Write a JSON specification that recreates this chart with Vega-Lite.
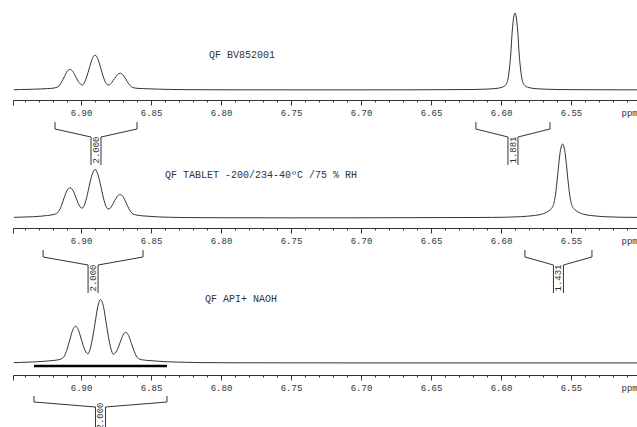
{
  "$schema": "https://vega.github.io/schema/vega-lite/v6.json",
  "background": "white",
  "padding": {"left": 11, "top": 0, "right": 0, "bottom": 0},
  "bounds": "flush",
  "spacing": 20,
  "config": {"view": {"stroke": null}, "axis": {"labelOverlap": false, "labelFlush": false, "labelBound": false}},
  "resolve": {"scale": {"x": "independent", "y": "independent"}},
  "datasets": {
    "s1": [
      {"ppm": 6.948, "i": 0.3}, {"ppm": 6.944, "i": 0.4}, {"ppm": 6.934, "i": 0.8}, {"ppm": 6.928, "i": 1.1}, {"ppm": 6.924, "i": 1.4},
      {"ppm": 6.92, "i": 1.8}, {"ppm": 6.918, "i": 2.4}, {"ppm": 6.916, "i": 3.7}, {"ppm": 6.914, "i": 7.6}, {"ppm": 6.912, "i": 13.1},
      {"ppm": 6.91, "i": 18.4}, {"ppm": 6.908, "i": 20.6}, {"ppm": 6.906, "i": 18.8}, {"ppm": 6.904, "i": 13.8}, {"ppm": 6.902, "i": 8.7},
      {"ppm": 6.9, "i": 5.5}, {"ppm": 6.899, "i": 5.1}, {"ppm": 6.898, "i": 6.5}, {"ppm": 6.896, "i": 12.9}, {"ppm": 6.894, "i": 22.2},
      {"ppm": 6.892, "i": 31.2}, {"ppm": 6.89, "i": 34.9}, {"ppm": 6.888, "i": 31.2}, {"ppm": 6.886, "i": 22.2}, {"ppm": 6.884, "i": 12.8},
      {"ppm": 6.882, "i": 6.3}, {"ppm": 6.881, "i": 4.9}, {"ppm": 6.88, "i": 5.1}, {"ppm": 6.878, "i": 7.6}, {"ppm": 6.876, "i": 11.5},
      {"ppm": 6.874, "i": 15.4}, {"ppm": 6.872, "i": 16.8}, {"ppm": 6.87, "i": 15.0}, {"ppm": 6.868, "i": 10.8}, {"ppm": 6.866, "i": 6.3},
      {"ppm": 6.864, "i": 3.2}, {"ppm": 6.862, "i": 2.1}, {"ppm": 6.86, "i": 1.7}, {"ppm": 6.856, "i": 1.4}, {"ppm": 6.85, "i": 1.1},
      {"ppm": 6.844, "i": 0.8}, {"ppm": 6.836, "i": 0.55}, {"ppm": 6.825, "i": 0.35}, {"ppm": 6.8, "i": 0.2}, {"ppm": 6.75, "i": 0.15},
      {"ppm": 6.7, "i": 0.15}, {"ppm": 6.66, "i": 0.2}, {"ppm": 6.64, "i": 0.35}, {"ppm": 6.62, "i": 0.5}, {"ppm": 6.61, "i": 0.9},
      {"ppm": 6.605, "i": 1.3}, {"ppm": 6.602, "i": 1.8}, {"ppm": 6.6, "i": 2.4}, {"ppm": 6.598, "i": 3.5}, {"ppm": 6.597, "i": 4.5},
      {"ppm": 6.596, "i": 6.5}, {"ppm": 6.595, "i": 11}, {"ppm": 6.594, "i": 21}, {"ppm": 6.593, "i": 36}, {"ppm": 6.592, "i": 58},
      {"ppm": 6.591, "i": 72}, {"ppm": 6.59, "i": 77}, {"ppm": 6.589, "i": 72}, {"ppm": 6.588, "i": 58}, {"ppm": 6.587, "i": 36},
      {"ppm": 6.586, "i": 21}, {"ppm": 6.585, "i": 11}, {"ppm": 6.584, "i": 6.5}, {"ppm": 6.583, "i": 4.5}, {"ppm": 6.582, "i": 3.5},
      {"ppm": 6.58, "i": 2.4}, {"ppm": 6.578, "i": 1.8}, {"ppm": 6.575, "i": 1.3}, {"ppm": 6.57, "i": 0.9}, {"ppm": 6.56, "i": 0.5},
      {"ppm": 6.545, "i": 0.3}, {"ppm": 6.52, "i": 0.2}, {"ppm": 6.502, "i": 0.15}
    ],
    "s2": [
      {"ppm": 6.948, "i": 0.7}, {"ppm": 6.944, "i": 0.8}, {"ppm": 6.934, "i": 1.3}, {"ppm": 6.928, "i": 1.9}, {"ppm": 6.924, "i": 2.5},
      {"ppm": 6.92, "i": 3.4}, {"ppm": 6.918, "i": 4.2}, {"ppm": 6.916, "i": 6.6}, {"ppm": 6.914, "i": 12.4}, {"ppm": 6.912, "i": 20.5},
      {"ppm": 6.91, "i": 27.5}, {"ppm": 6.908, "i": 30.2}, {"ppm": 6.906, "i": 28.1}, {"ppm": 6.904, "i": 21.8}, {"ppm": 6.902, "i": 14.6},
      {"ppm": 6.9, "i": 10.2}, {"ppm": 6.899, "i": 9.9}, {"ppm": 6.898, "i": 11.7}, {"ppm": 6.896, "i": 20.3}, {"ppm": 6.894, "i": 32.9},
      {"ppm": 6.892, "i": 43.8}, {"ppm": 6.89, "i": 48.5}, {"ppm": 6.888, "i": 43.7}, {"ppm": 6.886, "i": 32.7}, {"ppm": 6.884, "i": 20.0},
      {"ppm": 6.882, "i": 11.2}, {"ppm": 6.881, "i": 9.2}, {"ppm": 6.88, "i": 9.1}, {"ppm": 6.878, "i": 12.1}, {"ppm": 6.876, "i": 17.3},
      {"ppm": 6.874, "i": 21.9}, {"ppm": 6.872, "i": 23.5}, {"ppm": 6.87, "i": 21.3}, {"ppm": 6.868, "i": 15.9}, {"ppm": 6.866, "i": 9.8},
      {"ppm": 6.864, "i": 5.4}, {"ppm": 6.862, "i": 3.6}, {"ppm": 6.86, "i": 2.9}, {"ppm": 6.856, "i": 2.15}, {"ppm": 6.85, "i": 1.55},
      {"ppm": 6.844, "i": 1.05}, {"ppm": 6.836, "i": 0.7}, {"ppm": 6.825, "i": 0.45}, {"ppm": 6.8, "i": 0.25}, {"ppm": 6.75, "i": 0.15},
      {"ppm": 6.7, "i": 0.2}, {"ppm": 6.65, "i": 0.4}, {"ppm": 6.62, "i": 0.5}, {"ppm": 6.606, "i": 0.6}, {"ppm": 6.596, "i": 0.8},
      {"ppm": 6.586, "i": 1.3}, {"ppm": 6.581, "i": 1.8}, {"ppm": 6.576, "i": 2.5}, {"ppm": 6.571, "i": 3.8}, {"ppm": 6.568, "i": 5.3},
      {"ppm": 6.566, "i": 7}, {"ppm": 6.564, "i": 9.5}, {"ppm": 6.563, "i": 11.5}, {"ppm": 6.562, "i": 16}, {"ppm": 6.561, "i": 24},
      {"ppm": 6.56, "i": 36}, {"ppm": 6.559, "i": 50}, {"ppm": 6.558, "i": 63}, {"ppm": 6.557, "i": 71}, {"ppm": 6.556, "i": 74},
      {"ppm": 6.555, "i": 71}, {"ppm": 6.554, "i": 63}, {"ppm": 6.553, "i": 50}, {"ppm": 6.552, "i": 36}, {"ppm": 6.551, "i": 24},
      {"ppm": 6.55, "i": 16}, {"ppm": 6.549, "i": 11.5}, {"ppm": 6.548, "i": 9.5}, {"ppm": 6.546, "i": 7}, {"ppm": 6.544, "i": 5.3},
      {"ppm": 6.541, "i": 3.8}, {"ppm": 6.536, "i": 2.5}, {"ppm": 6.531, "i": 1.8}, {"ppm": 6.526, "i": 1.3}, {"ppm": 6.516, "i": 0.8},
      {"ppm": 6.502, "i": 0.6}
    ],
    "s3": [
      {"ppm": 6.948, "i": 0.4}, {"ppm": 6.944, "i": 0.55}, {"ppm": 6.934, "i": 1.05}, {"ppm": 6.926, "i": 1.75}, {"ppm": 6.92, "i": 2.5},
      {"ppm": 6.916, "i": 3.3}, {"ppm": 6.914, "i": 4.2}, {"ppm": 6.912, "i": 6.6}, {"ppm": 6.91, "i": 13.6}, {"ppm": 6.908, "i": 23.3},
      {"ppm": 6.906, "i": 32.7}, {"ppm": 6.904, "i": 36.7}, {"ppm": 6.902, "i": 33.4}, {"ppm": 6.9, "i": 24.6}, {"ppm": 6.898, "i": 15.6},
      {"ppm": 6.896, "i": 10.0}, {"ppm": 6.895, "i": 9.2}, {"ppm": 6.894, "i": 11.7}, {"ppm": 6.892, "i": 23.2}, {"ppm": 6.89, "i": 39.8},
      {"ppm": 6.888, "i": 56.5}, {"ppm": 6.886, "i": 63.5}, {"ppm": 6.884, "i": 56.5}, {"ppm": 6.882, "i": 39.7}, {"ppm": 6.88, "i": 23.0},
      {"ppm": 6.878, "i": 11.4}, {"ppm": 6.877, "i": 8.8}, {"ppm": 6.876, "i": 9.3}, {"ppm": 6.874, "i": 13.6}, {"ppm": 6.872, "i": 20.9},
      {"ppm": 6.87, "i": 28.0}, {"ppm": 6.868, "i": 30.8}, {"ppm": 6.866, "i": 27.4}, {"ppm": 6.864, "i": 19.6}, {"ppm": 6.862, "i": 11.6},
      {"ppm": 6.86, "i": 5.8}, {"ppm": 6.858, "i": 3.8}, {"ppm": 6.856, "i": 3.15}, {"ppm": 6.852, "i": 2.5}, {"ppm": 6.846, "i": 1.9},
      {"ppm": 6.84, "i": 1.3}, {"ppm": 6.83, "i": 0.85}, {"ppm": 6.815, "i": 0.4}, {"ppm": 6.79, "i": 0.2}, {"ppm": 6.7, "i": 0.1},
      {"ppm": 6.6, "i": 0.1}, {"ppm": 6.502, "i": 0.1}
    ],
    "i1": [{"start": 6.9186, "end": 6.86, "value": 2.0}, {"start": 6.6179, "end": 6.565, "value": 1.881}],
    "i2": [{"start": 6.9271, "end": 6.8557, "value": 2.0}, {"start": 6.5829, "end": 6.535, "value": 1.431}],
    "i3": [{"start": 6.9336, "end": 6.8386, "value": 2.0}]
  },
  "vconcat": [
    {
      "width": 626, "height": 100,
      "resolve": {"axis": {"x": "independent", "y": "independent"}},
      "layer": [
        {
          "data": {"name": "s1"},
          "mark": {"type": "line", "color": "#333", "strokeWidth": 1, "interpolate": "monotone"},
          "encoding": {
            "x": {"field": "ppm", "type": "quantitative", "scale": {"domain": [6.5014, 6.9486], "reverse": true, "nice": false, "zero": false},
              "axis": {"values": [6.51, 6.52, 6.53, 6.54, 6.55, 6.56, 6.57, 6.58, 6.59, 6.6, 6.61, 6.62, 6.63, 6.64, 6.65, 6.66, 6.67, 6.68, 6.69, 6.7, 6.71, 6.72, 6.73, 6.74, 6.75, 6.76, 6.77, 6.78, 6.79, 6.8, 6.81, 6.82, 6.83, 6.84, 6.85, 6.86, 6.87, 6.88, 6.89, 6.9, 6.91, 6.92, 6.93, 6.94, 6.9485],
                "labelExpr": "abs(datum.value * 20 - round(datum.value * 20)) < 0.001 ? format(datum.value, '.2f') : ''",
                "tickSize": {"condition": {"test": "abs(datum.value * 20 - round(datum.value * 20)) < 0.001 || datum.value > 6.948", "value": 5}, "value": 2},
                "tickColor": "#333", "domainColor": "#333", "grid": false, "labelFont": "Liberation Mono", "labelFontSize": 9, "labelColor": "#333",
                "labelPadding": 3, "labelOverlap": false, "labelFlush": false, "title": "ppm", "titleFont": "Liberation Mono", "titleFontSize": 9,
                "titleFontWeight": "normal", "titleColor": "#333", "titleAlign": "left", "titleBaseline": "top", "titleAnchor": "end", "titleX": 608, "titleY": 8}},
            "y": {"field": "i", "type": "quantitative", "scale": {"domain": [-10, 90], "nice": false, "zero": false}, "axis": null}
          }
        },
        {
          "data": {"name": "i1"},
          "transform": [{"calculate": "(datum.start + datum.end) / 2", "as": "mid"}],
          "layer": [
            {"mark": {"type": "rule", "color": "#333"}, "encoding": {"x": {"field": "start", "type": "quantitative", "scale": {"domain": [6.5014, 6.9486], "reverse": true, "nice": false, "zero": false}, "axis": null}, "y": {"datum": -32, "type": "quantitative", "scale": {"domain": [-10, 90], "nice": false, "zero": false}, "axis": null}, "y2": {"datum": -39}}},
            {"mark": {"type": "rule", "color": "#333"}, "encoding": {"x": {"field": "end", "type": "quantitative", "scale": {"domain": [6.5014, 6.9486], "reverse": true, "nice": false, "zero": false}, "axis": null}, "y": {"datum": -32, "type": "quantitative", "scale": {"domain": [-10, 90], "nice": false, "zero": false}, "axis": null}, "y2": {"datum": -39}}},
            {"mark": {"type": "rule", "color": "#333", "x2Offset": -5}, "encoding": {"x": {"field": "start", "type": "quantitative", "scale": {"domain": [6.5014, 6.9486], "reverse": true, "nice": false, "zero": false}, "axis": null}, "x2": {"field": "mid"}, "y": {"datum": -39, "type": "quantitative", "scale": {"domain": [-10, 90], "nice": false, "zero": false}, "axis": null}, "y2": {"datum": -47}}},
            {"mark": {"type": "rule", "color": "#333", "x2Offset": 5}, "encoding": {"x": {"field": "end", "type": "quantitative", "scale": {"domain": [6.5014, 6.9486], "reverse": true, "nice": false, "zero": false}, "axis": null}, "x2": {"field": "mid"}, "y": {"datum": -39, "type": "quantitative", "scale": {"domain": [-10, 90], "nice": false, "zero": false}, "axis": null}, "y2": {"datum": -47}}},
            {"mark": {"type": "rule", "color": "#333", "xOffset": -5}, "encoding": {"x": {"field": "mid", "type": "quantitative", "scale": {"domain": [6.5014, 6.9486], "reverse": true, "nice": false, "zero": false}, "axis": null}, "y": {"datum": -47, "type": "quantitative", "scale": {"domain": [-10, 90], "nice": false, "zero": false}, "axis": null}, "y2": {"datum": -75}}},
            {"mark": {"type": "rule", "color": "#333", "xOffset": 5}, "encoding": {"x": {"field": "mid", "type": "quantitative", "scale": {"domain": [6.5014, 6.9486], "reverse": true, "nice": false, "zero": false}, "axis": null}, "y": {"datum": -47, "type": "quantitative", "scale": {"domain": [-10, 90], "nice": false, "zero": false}, "axis": null}, "y2": {"datum": -75}}},
            {"mark": {"type": "text", "angle": 270, "font": "Liberation Mono", "fontSize": 9, "color": "#333", "align": "center", "baseline": "middle"}, "encoding": {"x": {"field": "mid", "type": "quantitative", "scale": {"domain": [6.5014, 6.9486], "reverse": true, "nice": false, "zero": false}, "axis": null}, "y": {"datum": -60, "type": "quantitative", "scale": {"domain": [-10, 90], "nice": false, "zero": false}, "axis": null}, "text": {"field": "value", "type": "quantitative", "format": ".3f"}}}
          ]
        },
        {
          "data": {"values": [{"label": "QF BV852001"}]},
          "mark": {"type": "text", "align": "left", "baseline": "middle", "font": "Liberation Mono", "fontSize": 10, "color": "#333"},
          "encoding": {"x": {"datum": 6.8086, "type": "quantitative", "scale": {"domain": [6.5014, 6.9486], "reverse": true, "nice": false, "zero": false}, "axis": null}, "y": {"datum": 35, "type": "quantitative", "scale": {"domain": [-10, 90], "nice": false, "zero": false}, "axis": null}, "text": {"field": "label"}}
        }
      ]
    },
    {
      "width": 626, "height": 108,
      "resolve": {"axis": {"x": "independent", "y": "independent"}},
      "layer": [
        {
          "data": {"name": "s2"},
          "mark": {"type": "line", "color": "#333", "strokeWidth": 1, "interpolate": "monotone"},
          "encoding": {
            "x": {"field": "ppm", "type": "quantitative", "scale": {"domain": [6.5014, 6.9486], "reverse": true, "nice": false, "zero": false},
              "axis": {"values": [6.51, 6.52, 6.53, 6.54, 6.55, 6.56, 6.57, 6.58, 6.59, 6.6, 6.61, 6.62, 6.63, 6.64, 6.65, 6.66, 6.67, 6.68, 6.69, 6.7, 6.71, 6.72, 6.73, 6.74, 6.75, 6.76, 6.77, 6.78, 6.79, 6.8, 6.81, 6.82, 6.83, 6.84, 6.85, 6.86, 6.87, 6.88, 6.89, 6.9, 6.91, 6.92, 6.93, 6.94, 6.9485],
                "labelExpr": "abs(datum.value * 20 - round(datum.value * 20)) < 0.001 ? format(datum.value, '.2f') : ''",
                "tickSize": {"condition": {"test": "abs(datum.value * 20 - round(datum.value * 20)) < 0.001 || datum.value > 6.948", "value": 5}, "value": 2},
                "tickColor": "#333", "domainColor": "#333", "grid": false, "labelFont": "Liberation Mono", "labelFontSize": 9, "labelColor": "#333",
                "labelPadding": 3, "labelOverlap": false, "labelFlush": false, "title": "ppm", "titleFont": "Liberation Mono", "titleFontSize": 9,
                "titleFontWeight": "normal", "titleColor": "#333", "titleAlign": "left", "titleBaseline": "top", "titleAnchor": "end", "titleX": 608, "titleY": 8}},
            "y": {"field": "i", "type": "quantitative", "scale": {"domain": [-10, 98], "nice": false, "zero": false}, "axis": null}
          }
        },
        {
          "data": {"name": "i2"},
          "transform": [{"calculate": "(datum.start + datum.end) / 2", "as": "mid"}],
          "layer": [
            {"mark": {"type": "rule", "color": "#333"}, "encoding": {"x": {"field": "start", "type": "quantitative", "scale": {"domain": [6.5014, 6.9486], "reverse": true, "nice": false, "zero": false}, "axis": null}, "y": {"datum": -32, "type": "quantitative", "scale": {"domain": [-10, 98], "nice": false, "zero": false}, "axis": null}, "y2": {"datum": -39}}},
            {"mark": {"type": "rule", "color": "#333"}, "encoding": {"x": {"field": "end", "type": "quantitative", "scale": {"domain": [6.5014, 6.9486], "reverse": true, "nice": false, "zero": false}, "axis": null}, "y": {"datum": -32, "type": "quantitative", "scale": {"domain": [-10, 98], "nice": false, "zero": false}, "axis": null}, "y2": {"datum": -39}}},
            {"mark": {"type": "rule", "color": "#333", "x2Offset": -5}, "encoding": {"x": {"field": "start", "type": "quantitative", "scale": {"domain": [6.5014, 6.9486], "reverse": true, "nice": false, "zero": false}, "axis": null}, "x2": {"field": "mid"}, "y": {"datum": -39, "type": "quantitative", "scale": {"domain": [-10, 98], "nice": false, "zero": false}, "axis": null}, "y2": {"datum": -47}}},
            {"mark": {"type": "rule", "color": "#333", "x2Offset": 5}, "encoding": {"x": {"field": "end", "type": "quantitative", "scale": {"domain": [6.5014, 6.9486], "reverse": true, "nice": false, "zero": false}, "axis": null}, "x2": {"field": "mid"}, "y": {"datum": -39, "type": "quantitative", "scale": {"domain": [-10, 98], "nice": false, "zero": false}, "axis": null}, "y2": {"datum": -47}}},
            {"mark": {"type": "rule", "color": "#333", "xOffset": -5}, "encoding": {"x": {"field": "mid", "type": "quantitative", "scale": {"domain": [6.5014, 6.9486], "reverse": true, "nice": false, "zero": false}, "axis": null}, "y": {"datum": -47, "type": "quantitative", "scale": {"domain": [-10, 98], "nice": false, "zero": false}, "axis": null}, "y2": {"datum": -75}}},
            {"mark": {"type": "rule", "color": "#333", "xOffset": 5}, "encoding": {"x": {"field": "mid", "type": "quantitative", "scale": {"domain": [6.5014, 6.9486], "reverse": true, "nice": false, "zero": false}, "axis": null}, "y": {"datum": -47, "type": "quantitative", "scale": {"domain": [-10, 98], "nice": false, "zero": false}, "axis": null}, "y2": {"datum": -75}}},
            {"mark": {"type": "text", "angle": 270, "font": "Liberation Mono", "fontSize": 9, "color": "#333", "align": "center", "baseline": "middle"}, "encoding": {"x": {"field": "mid", "type": "quantitative", "scale": {"domain": [6.5014, 6.9486], "reverse": true, "nice": false, "zero": false}, "axis": null}, "y": {"datum": -60, "type": "quantitative", "scale": {"domain": [-10, 98], "nice": false, "zero": false}, "axis": null}, "text": {"field": "value", "type": "quantitative", "format": ".3f"}}}
          ]
        },
        {
          "data": {"values": [{"label": "QF TABLET -200/234-40ºC /75 % RH"}]},
          "mark": {"type": "text", "align": "left", "baseline": "middle", "font": "Liberation Mono", "fontSize": 10, "color": "#333"},
          "encoding": {"x": {"datum": 6.84, "type": "quantitative", "scale": {"domain": [6.5014, 6.9486], "reverse": true, "nice": false, "zero": false}, "axis": null}, "y": {"datum": 43, "type": "quantitative", "scale": {"domain": [-10, 98], "nice": false, "zero": false}, "axis": null}, "text": {"field": "label"}}
        }
      ]
    },
    {
      "width": 626, "height": 127,
      "resolve": {"axis": {"x": "independent", "y": "independent"}},
      "layer": [
        {
          "data": {"name": "s3"},
          "mark": {"type": "line", "color": "#333", "strokeWidth": 1, "interpolate": "monotone"},
          "encoding": {
            "x": {"field": "ppm", "type": "quantitative", "scale": {"domain": [6.5014, 6.9486], "reverse": true, "nice": false, "zero": false},
              "axis": {"values": [6.51, 6.52, 6.53, 6.54, 6.55, 6.56, 6.57, 6.58, 6.59, 6.6, 6.61, 6.62, 6.63, 6.64, 6.65, 6.66, 6.67, 6.68, 6.69, 6.7, 6.71, 6.72, 6.73, 6.74, 6.75, 6.76, 6.77, 6.78, 6.79, 6.8, 6.81, 6.82, 6.83, 6.84, 6.85, 6.86, 6.87, 6.88, 6.89, 6.9, 6.91, 6.92, 6.93, 6.94, 6.9485],
                "labelExpr": "abs(datum.value * 20 - round(datum.value * 20)) < 0.001 ? format(datum.value, '.2f') : ''",
                "tickSize": {"condition": {"test": "abs(datum.value * 20 - round(datum.value * 20)) < 0.001 || datum.value > 6.948", "value": 5}, "value": 2},
                "tickColor": "#333", "domainColor": "#333", "grid": false, "labelFont": "Liberation Mono", "labelFontSize": 9, "labelColor": "#333",
                "labelPadding": 3, "labelOverlap": false, "labelFlush": false, "title": "ppm", "titleFont": "Liberation Mono", "titleFontSize": 9,
                "titleFontWeight": "normal", "titleColor": "#333", "titleAlign": "left", "titleBaseline": "top", "titleAnchor": "end", "titleX": 608, "titleY": 8}},
            "y": {"field": "i", "type": "quantitative", "scale": {"domain": [-12, 115], "nice": false, "zero": false}, "axis": null}
          }
        },
        {
          "data": {"name": "i3"},
          "transform": [{"calculate": "(datum.start + datum.end) / 2", "as": "mid"}],
          "layer": [
            {"mark": {"type": "rule", "color": "#000", "strokeWidth": 2.5}, "encoding": {"x": {"field": "start", "type": "quantitative", "scale": {"domain": [6.5014, 6.9486], "reverse": true, "nice": false, "zero": false}, "axis": null}, "x2": {"field": "end"}, "y": {"datum": -3, "type": "quantitative", "scale": {"domain": [-12, 115], "nice": false, "zero": false}, "axis": null}}},
            {"mark": {"type": "rule", "color": "#333"}, "encoding": {"x": {"field": "start", "type": "quantitative", "scale": {"domain": [6.5014, 6.9486], "reverse": true, "nice": false, "zero": false}, "axis": null}, "y": {"datum": -33, "type": "quantitative", "scale": {"domain": [-12, 115], "nice": false, "zero": false}, "axis": null}, "y2": {"datum": -39}}},
            {"mark": {"type": "rule", "color": "#333"}, "encoding": {"x": {"field": "end", "type": "quantitative", "scale": {"domain": [6.5014, 6.9486], "reverse": true, "nice": false, "zero": false}, "axis": null}, "y": {"datum": -33, "type": "quantitative", "scale": {"domain": [-12, 115], "nice": false, "zero": false}, "axis": null}, "y2": {"datum": -39}}},
            {"mark": {"type": "rule", "color": "#333", "x2Offset": -5}, "encoding": {"x": {"field": "start", "type": "quantitative", "scale": {"domain": [6.5014, 6.9486], "reverse": true, "nice": false, "zero": false}, "axis": null}, "x2": {"field": "mid"}, "y": {"datum": -39, "type": "quantitative", "scale": {"domain": [-12, 115], "nice": false, "zero": false}, "axis": null}, "y2": {"datum": -44}}},
            {"mark": {"type": "rule", "color": "#333", "x2Offset": 5}, "encoding": {"x": {"field": "end", "type": "quantitative", "scale": {"domain": [6.5014, 6.9486], "reverse": true, "nice": false, "zero": false}, "axis": null}, "x2": {"field": "mid"}, "y": {"datum": -39, "type": "quantitative", "scale": {"domain": [-12, 115], "nice": false, "zero": false}, "axis": null}, "y2": {"datum": -44}}},
            {"mark": {"type": "rule", "color": "#333", "xOffset": -5}, "encoding": {"x": {"field": "mid", "type": "quantitative", "scale": {"domain": [6.5014, 6.9486], "reverse": true, "nice": false, "zero": false}, "axis": null}, "y": {"datum": -44, "type": "quantitative", "scale": {"domain": [-12, 115], "nice": false, "zero": false}, "axis": null}, "y2": {"datum": -72}}},
            {"mark": {"type": "rule", "color": "#333", "xOffset": 5}, "encoding": {"x": {"field": "mid", "type": "quantitative", "scale": {"domain": [6.5014, 6.9486], "reverse": true, "nice": false, "zero": false}, "axis": null}, "y": {"datum": -44, "type": "quantitative", "scale": {"domain": [-12, 115], "nice": false, "zero": false}, "axis": null}, "y2": {"datum": -72}}},
            {"mark": {"type": "text", "angle": 270, "font": "Liberation Mono", "fontSize": 9, "color": "#333", "align": "center", "baseline": "middle"}, "encoding": {"x": {"field": "mid", "type": "quantitative", "scale": {"domain": [6.5014, 6.9486], "reverse": true, "nice": false, "zero": false}, "axis": null}, "y": {"datum": -53, "type": "quantitative", "scale": {"domain": [-12, 115], "nice": false, "zero": false}, "axis": null}, "text": {"field": "value", "type": "quantitative", "format": ".3f"}}}
          ]
        },
        {
          "data": {"values": [{"label": "QF API+ NAOH"}]},
          "mark": {"type": "text", "align": "left", "baseline": "middle", "font": "Liberation Mono", "fontSize": 10, "color": "#333"},
          "encoding": {"x": {"datum": 6.8114, "type": "quantitative", "scale": {"domain": [6.5014, 6.9486], "reverse": true, "nice": false, "zero": false}, "axis": null}, "y": {"datum": 64, "type": "quantitative", "scale": {"domain": [-12, 115], "nice": false, "zero": false}, "axis": null}, "text": {"field": "label"}}
        }
      ]
    }
  ]
}
